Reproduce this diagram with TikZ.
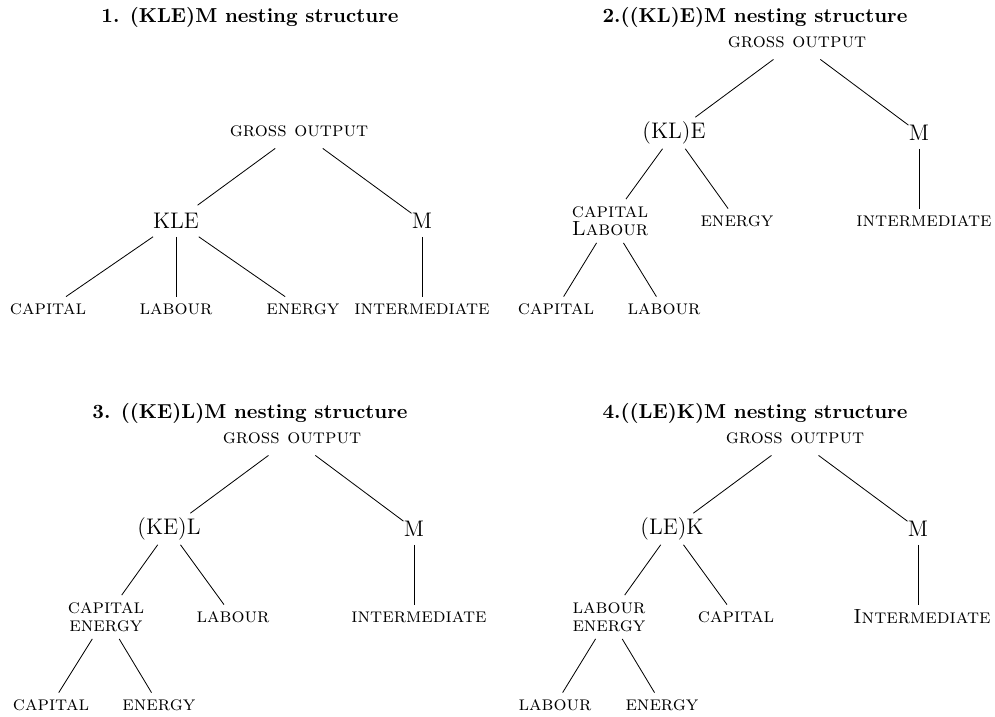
\documentclass[tikz,border=0pt]{standalone}
\begin{document}
\begin{tikzpicture}[x=0.01715cm,y=-0.01715cm,
  ttl/.style={font=\fontsize{9.85}{12}\selectfont\bfseries, inner sep=0pt, anchor=base},
  gonode/.style={font=\scshape, inner sep=0pt, minimum height=16.6pt},
  mid/.style={font=\fontsize{11}{13}\selectfont, inner sep=0pt, minimum height=15pt},
  leaf/.style={font=\scshape, inner sep=0pt, minimum height=11.7pt},
  twoleaf/.style={font=\scshape\fontsize{10}{8.6}\selectfont, align=center, inner sep=0pt, minimum height=21pt},
  link/.style={line width=0.4pt}]
\useasboundingbox (0,0) rectangle (995,717);

% Panel 1
\node[ttl] (t1) at (250,23) {1. (KLE)M nesting structure};
\node[gonode] (go1) at (299,131) {gross output};
\node[mid] (kle1) at (176,221) {KLE};
\node[mid] (m1) at (422,221) {M};
\node[leaf] (k1) at (48,309) {capital};
\node[leaf] (l1) at (176,309) {labour};
\node[leaf] (e1) at (303,309) {energy};
\node[leaf] (i1) at (422,309) {intermediate};
\draw[link] (go1) -- (kle1);
\draw[link] (go1) -- (m1);
\draw[link] (kle1) -- (k1);
\draw[link] (kle1) -- (l1);
\draw[link] (kle1) -- (e1);
\draw[link] (m1) -- (m1 |- i1.north);

% Panel 2
\node[ttl] (t2) at (755,23) {2.((KL)E)M nesting structure};
\node[gonode] (go2) at (797,42) {gross output};
\node[mid] (kle2) at (674,133) {(KL)E};
\node[mid] (m2) at (919,133) {M};
\node[twoleaf] (cl2) at (610,221) {capital\\Labour};
\node[leaf] (e2) at (737,221) {energy};
\node[leaf] (i2) at (924,221) {intermediate};
\node[leaf] (c2) at (556,309) {capital};
\node[leaf] (l2) at (664,309) {labour};
\draw[link] (go2) -- (kle2);
\draw[link] (go2) -- (m2);
\draw[link] (kle2) -- (cl2);
\draw[link] (kle2) -- (e2);
\draw[link] (m2) -- (m2 |- i2.north);
\draw[link] (cl2) -- (c2);
\draw[link] (cl2) -- (l2);

% Panel 3
\node[ttl] (t3) at (250,418) {3. ((KE)L)M nesting structure};
\node[gonode] (go3) at (292,438) {gross output};
\node[mid] (kel3) at (169,529) {(KE)L};
\node[mid] (m3) at (414,529) {M};
\node[twoleaf] (ce3) at (106,617) {capital\\energy};
\node[leaf] (l3) at (233,617) {labour};
\node[leaf] (i3) at (419,617) {intermediate};
\node[leaf] (c3) at (51,705) {capital};
\node[leaf] (e3) at (159,705) {energy};
\draw[link] (go3) -- (kel3);
\draw[link] (go3) -- (m3);
\draw[link] (kel3) -- (ce3);
\draw[link] (kel3) -- (l3);
\draw[link] (m3) -- (m3 |- i3.north);
\draw[link] (ce3) -- (c3);
\draw[link] (ce3) -- (e3);

% Panel 4
\node[ttl] (t4) at (755,418) {4.((LE)K)M nesting structure};
\node[gonode] (go4) at (795,438) {gross output};
\node[mid] (lek4) at (672,529) {(LE)K};
\node[mid] (m4) at (918,529) {M};
\node[twoleaf] (le4) at (609,617) {labour\\energy};
\node[leaf] (c4) at (736,617) {capital};
\node[leaf] (i4) at (922,617) {Intermediate};
\node[leaf] (l4) at (555,705) {labour};
\node[leaf] (e4) at (662,705) {energy};
\draw[link] (go4) -- (lek4);
\draw[link] (go4) -- (m4);
\draw[link] (lek4) -- (le4);
\draw[link] (lek4) -- (c4);
\draw[link] (m4) -- (m4 |- i4.north);
\draw[link] (le4) -- (l4);
\draw[link] (le4) -- (e4);
\end{tikzpicture}
\end{document}
